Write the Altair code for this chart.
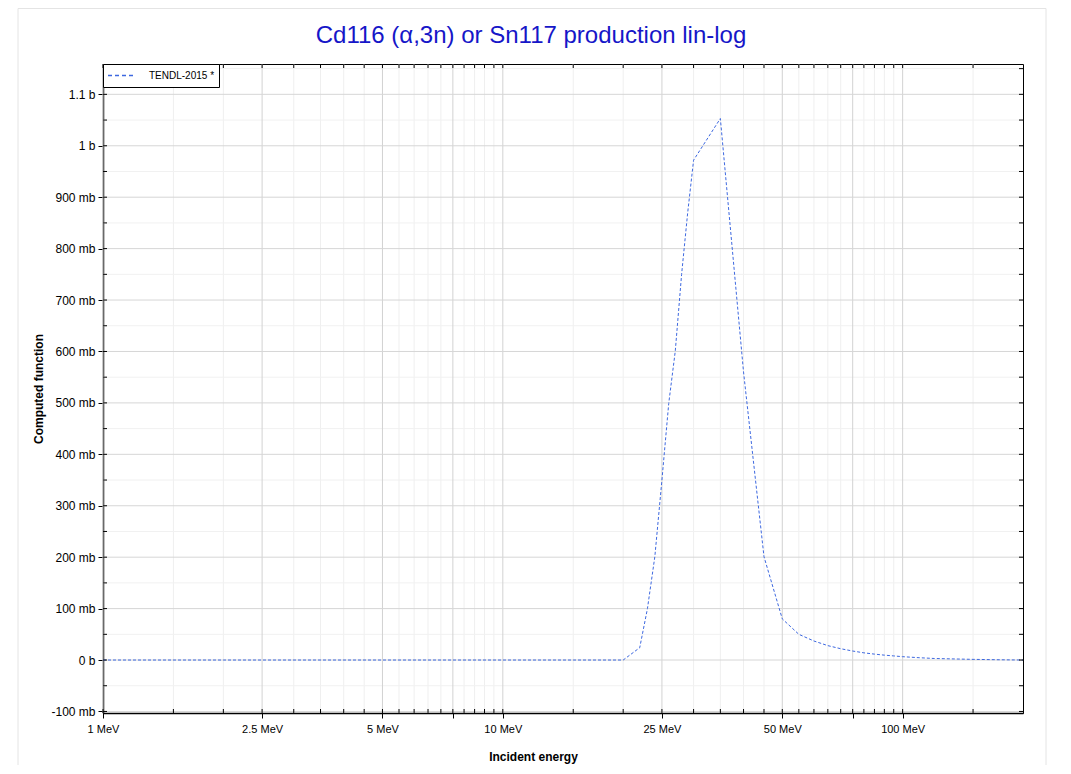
import altair as alt
import pandas as pd

# ---------------- data ----------------
energy_mev = [1, 2, 5, 10, 15, 20, 22, 23, 24, 25, 26, 27, 28, 29, 30, 35, 40, 45, 50,
              55, 60, 65, 70, 75, 80, 85, 90, 95, 100, 110, 120, 140, 150, 175, 200]
xs_mb = [0, 0, 0, 0, 0, 0, 24, 100, 201, 350, 499, 601, 750, 870, 972, 1053, 560, 201, 80,
         50, 37, 28, 22, 17.5, 14, 11.5, 9.5, 8, 6.5, 4.5, 3, 1.8, 1.3, 0.5, 0]
series_name = "TENDL-2015 *"

x_major = [1, 2.5, 5, 7.5, 10, 25, 50, 75, 100]
x_minor = [1.5, 2, 3, 3.5, 4, 4.5, 5.5, 6, 6.5, 7, 8, 8.5, 9, 9.5, 15, 20, 30, 35, 40, 45,
           55, 60, 65, 70, 80, 85, 90, 95, 150]
y_major = [-100, 0, 100, 200, 300, 400, 500, 600, 700, 800, 900, 1000, 1100]
y_minor = [-50, 50, 150, 250, 350, 450, 550, 650, 750, 850, 950, 1050, 1150]

title_text = "Cd116 (α,3n) or Sn117 production lin-log"
x_title = "Incident energy"
y_title = "Computed function"

# ---------------- layout ----------------
W, H = 920, 649
FONT = "Liberation Sans"

df = pd.DataFrame({"E": energy_mev, "XS": xs_mb, "series": [series_name] * len(energy_mev)})
df_xmaj = pd.DataFrame({"E": x_major})
df_xmin = pd.DataFrame({"E": x_minor})
df_xall = pd.DataFrame({"E": x_major + x_minor})
df_ymaj = pd.DataFrame({"V": y_major})
df_ymin = pd.DataFrame({"V": y_minor})
df_yall = pd.DataFrame({"V": y_major + y_minor})
df_one = pd.DataFrame({"t": [title_text]})

xscale = alt.Scale(type="log", domain=[1, 200], nice=False)
yscale = alt.Scale(domain=[-103, 1159], nice=False, zero=False)


def xrule(data, color, y0, y1, width=1.0):
    return alt.Chart(data).mark_rule(color=color, strokeWidth=width).encode(
        x=alt.X("E:Q", scale=xscale, axis=None),
        y=alt.value(y0), y2=alt.value(y1))


def yrule(data, color, x0, x1, width=1.0):
    return alt.Chart(data).mark_rule(color=color, strokeWidth=width).encode(
        y=alt.Y("V:Q", scale=yscale, axis=None),
        x=alt.value(x0), x2=alt.value(x1))


frame = alt.Chart(df_one).mark_rect(fill="white", fillOpacity=0, stroke="#e4e4e4", strokeWidth=1).encode(
    x=alt.value(-85), x2=alt.value(943), y=alt.value(-55.5), y2=alt.value(720))

grid = [
    xrule(df_xmin, "#efefef", 0, H),
    yrule(df_ymin, "#f1f1f1", 0, W),
    xrule(df_xmaj, "#d2d2d2", 0, H),
    yrule(df_ymaj, "#d6d6d6", 0, W),
]

line = alt.Chart(df).mark_line(strokeDash=[3, 2], strokeWidth=1).encode(
    x=alt.X("E:Q", scale=xscale,
            axis=alt.Axis(orient="bottom", values=x_major,
                          labelExpr="(datum.value == 7.5 || datum.value == 75) ? '' : datum.value + ' MeV'",
                          title=x_title, titleFontWeight="bold", titleFontSize=12, titleColor="black",
                          titleX=430, titleY=47, titleBaseline="alphabetic", titleAlign="center",
                          grid=False, tickSize=5, tickColor="black", tickWidth=1,
                          domainColor="black", domainWidth=1.5,
                          labelFontSize=11, labelColor="black", labelPadding=5,
                          labelFlush=False, labelOverlap=False)),
    y=alt.Y("XS:Q", scale=yscale,
            axis=alt.Axis(orient="left", values=y_major,
                          labelExpr="datum.value == 0 ? '0 b' : (abs(datum.value) >= 1000 ? (datum.value / 1000) + ' b' : datum.value + ' mb')",
                          title=y_title, titleFontWeight="bold", titleFontSize=12, titleColor="black",
                          titleX=-61, titleY=H / 2, titleBaseline="alphabetic", titleAngle=270,
                          titleAlign="center",
                          grid=False, tickSize=5, tickColor="black", tickWidth=1,
                          domainColor="black", domainWidth=1.5,
                          labelFontSize=12, labelColor="black", labelPadding=3,
                          labelFlush=False, labelOverlap=False)),
    color=alt.Color("series:N",
                    scale=alt.Scale(domain=[series_name], range=["#3d68e0"]),
                    legend=alt.Legend(title=None, orient="top-left", offset=0, padding=4,
                                      fillColor="white", strokeColor="black",
                                      symbolType="stroke", symbolSize=676, symbolStrokeWidth=1.5,
                                      symbolDash=[4, 3], clipHeight=15, labelOffset=14,
                                      labelFontSize=10, labelColor="black", labelFont=FONT)),
)

ticks = [
    xrule(df_xall, "black", H, H - 4),      # bottom inward ticks
    xrule(df_xall, "black", 0, 4),          # top inward ticks
    yrule(df_yall, "black", 0, 4),          # left inward ticks
    yrule(df_yall, "black", W, W - 4),      # right inward ticks
]

title = alt.Chart(df_one).mark_text(fontSize=24, font=FONT, color="#1616c8", align="center",
                                    baseline="alphabetic").encode(
    text="t:N", x=alt.value(428), y=alt.value(-21))

chart = alt.layer(frame, *grid, line, *ticks, title).resolve_axis(
    x="independent", y="independent"
).properties(
    width=W, height=H,
    autosize=alt.AutoSizeParams(type="none"),
    padding={"left": 95, "top": 56, "right": 35, "bottom": 52},
).configure(font=FONT).configure_view(stroke="black", strokeWidth=1)

chart.save("out.html", embed_options={"renderer": "svg", "actions": False})
